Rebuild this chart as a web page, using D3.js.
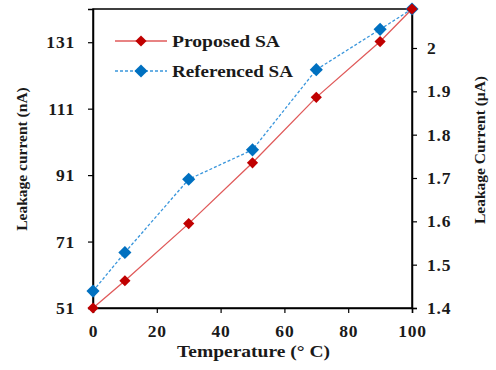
<!DOCTYPE html>
<html><head><meta charset="utf-8">
<script src="https://cdn.jsdelivr.net/npm/d3@7"></script>
<style>body{margin:0;background:#fff}svg{display:block}text{font-family:"Liberation Serif","Times New Roman",serif;font-weight:bold;fill:#1a1a1a}</style>
</head><body><svg id="c" width="496" height="370"></svg>
<script>
const temperatures = [0, 10, 30, 50, 70, 90, 100];
const proposedSA = [51, 59.2, 76.4, 94.7, 114.4, 131.2, 141];
const referencedSA = [1.439, 1.528, 1.697, 1.765, 1.95, 2.043, 2.09];
const xTicks = [0, 20, 40, 60, 80, 100];
const leftTicks = [51, 71, 91, 111, 131];
const rightTicks = [1.4, 1.5, 1.6, 1.7, 1.8, 1.9, 2.0];
const seriesNames = ["Proposed SA", "Referenced SA"];

const W = 496, H = 370, m = {l: 93, r: 84, t: 9, b: 62};
const svg = d3.select("#c");
const x = d3.scaleLinear().domain([0, 100]).range([m.l, W - m.r]);
const yL = d3.scaleLinear().domain([51, 141]).range([H - m.b, m.t]);
const yR = d3.scaleLinear().domain([1.4, 2.09]).range([H - m.b, m.t]);

// frame
svg.append("rect").attr("x", m.l).attr("y", m.t).attr("width", W - m.l - m.r).attr("height", H - m.t - m.b)
  .attr("fill", "none").attr("stroke", "#000").attr("stroke-width", 1.5);

const ax = svg.append("g").attr("transform", `translate(0,${H - m.b})`)
  .call(d3.axisBottom(x).tickValues(xTicks).tickSize(5).tickPadding(12).tickFormat(d3.format("d")));
const al = svg.append("g").attr("transform", `translate(${m.l},0)`)
  .call(d3.axisLeft(yL).tickValues(leftTicks).tickSize(5).tickPadding(13).tickFormat(d3.format("d")));
const ar = svg.append("g").attr("transform", `translate(${W - m.r},0)`)
  .call(d3.axisRight(yR).tickValues(rightTicks).tickSize(5).tickPadding(10).tickFormat(d => d3.format("")(+d.toFixed(1))));
[ax, al, ar].forEach(g => {
  g.select(".domain").attr("stroke", "#000").attr("stroke-width", 1.5);
  g.selectAll(".tick line").attr("stroke", "#000").attr("stroke-width", 1.2);
  g.selectAll("text").attr("font-size", 17.5).attr("fill", "#1a1a1a")
    .style("font-family", '"Liberation Serif",serif').style("font-weight", "bold")
    .style("letter-spacing", "0.8px");
});

// titles
svg.append("text").attr("x", 177).attr("y", 357)
  .attr("font-size", 16.5).attr("textLength", 153).attr("lengthAdjust", "spacingAndGlyphs").text("Temperature (° C)");
svg.append("text").attr("transform", `translate(27,159) rotate(-90)`).attr("text-anchor", "middle")
  .attr("font-size", 15.5).text("Leakage current (nA)");
svg.append("text").attr("transform", `translate(485,150) rotate(-90)`).attr("text-anchor", "middle")
  .attr("font-size", 15.5).text("Leakage Current (μA)");

const diamond = d3.symbol().type(d3.symbolDiamond2);
// Referenced (right axis)
const lineR = d3.line().x((d, i) => x(temperatures[i])).y(d => yR(d));
svg.append("path").datum(referencedSA).attr("d", lineR).attr("fill", "none")
  .attr("stroke", "#3a96dc").attr("stroke-width", 1.3).attr("stroke-dasharray", "3,2");
svg.selectAll(".mr").data(referencedSA).enter().append("path")
  .attr("transform", (d, i) => `translate(${x(temperatures[i])},${yR(d)})`)
  .attr("d", diamond.size(110)).attr("fill", "#0070c0");
// Proposed (left axis)
const lineL = d3.line().x((d, i) => x(temperatures[i])).y(d => yL(d));
svg.append("path").datum(proposedSA).attr("d", lineL).attr("fill", "none")
  .attr("stroke", "#e05a5a").attr("stroke-width", 1.3);
svg.selectAll(".ml").data(proposedSA).enter().append("path")
  .attr("transform", (d, i) => `translate(${x(temperatures[i])},${yL(d)})`)
  .attr("d", diamond.size(80)).attr("fill", "#c00000");

// legend
const leg = [{y: 41, c: "#e05a5a", mc: "#c00000", dash: null, s: 80, w: 108}, {y: 71, c: "#3a96dc", mc: "#0070c0", dash: "3,2", s: 110, w: 121}];
leg.forEach((L, i) => {
  svg.append("line").attr("x1", 115).attr("x2", 167).attr("y1", L.y).attr("y2", L.y)
    .attr("stroke", L.c).attr("stroke-width", 1.3).attr("stroke-dasharray", L.dash);
  svg.append("path").attr("transform", `translate(141,${L.y})`).attr("d", diamond.size(L.s)).attr("fill", L.mc);
  svg.append("text").attr("x", 172).attr("y", L.y + 6).attr("font-size", 17)
    .attr("textLength", L.w).attr("lengthAdjust", "spacingAndGlyphs").text(seriesNames[i]);
});
</script></body></html>
